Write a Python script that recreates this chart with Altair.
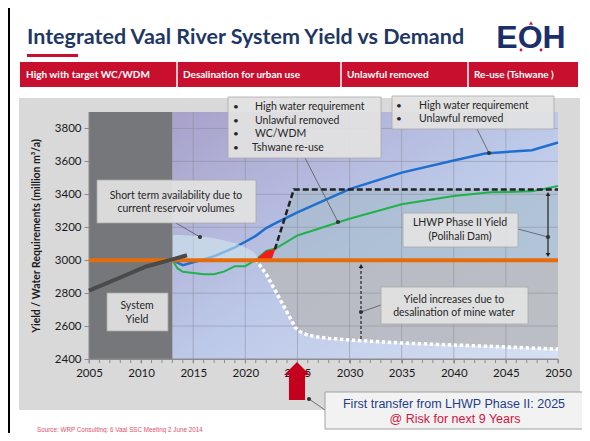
import altair as alt
import pandas as pd

# ---------------- data ----------------
x_ticks = [2005, 2010, 2015, 2020, 2025, 2030, 2035, 2040, 2045, 2050]
y_ticks = [2400, 2600, 2800, 3000, 3200, 3400, 3600, 3800]
minor_years = list(range(2005, 2051))
x_domain = [2005, 2050]
y_domain = [2400, 3900]
history_span = [2005, 2013]
projection_span = [2013, 2050]
base_yield = 3000

system_yield_years = [2005, 2008, 2010.5, 2013, 2014.4]
system_yield_vals = [2815, 2895, 2962, 3005, 3030]

current_yield_years = [2005, 2050]
current_yield_vals = [3000, 3000]

high_req_years = [2013, 2014, 2015, 2016, 2017, 2018, 2019, 2020, 2021, 2022, 2023,
                  2025, 2030, 2035, 2040, 2043, 2045, 2047.5, 2050]
high_req_vals = [3000, 2970, 2988, 3005, 3025, 3050, 3078, 3112, 3148, 3195, 3228,
                 3290, 3432, 3532, 3605, 3648, 3657, 3668, 3715]

wcwdm_years = [2013, 2013.5, 2014, 2015, 2016, 2017, 2018, 2019, 2020, 2021, 2022,
               2022.9, 2025, 2030, 2035, 2040, 2043.5, 2047.5, 2050]
wcwdm_vals = [3000, 2950, 2930, 2922, 2915, 2915, 2932, 2964, 2964, 3003, 3056,
              3071, 3150, 3252, 3340, 3390, 3412, 3418, 3450]

decline_years = [2021.0, 2022, 2023, 2024, 2024.8, 2025.3, 2026, 2027, 2028, 2030,
                 2035, 2040, 2045, 2050]
decline_vals = [3005, 2915, 2800, 2685, 2590, 2565, 2545, 2533, 2525, 2515,
                2497, 2485, 2473, 2460]

lhwp_line_years = [2022.83, 2024.65, 2050]
lhwp_line_vals = [3065, 3430, 3430]
lhwp_area_years = [2022.5, 2024.65, 2050]
lhwp_area_vals = [3000, 3430, 3430]

deficit_years = [2020.9, 2022.0, 2022.5, 2022.9]
deficit_top = [3000, 3056, 3064, 3071]
deficit_bottom = [3000, 3000, 3000, 3071]

# ---------------- frames ----------------
def frame(xv, yv, y2v=None):
    d = pd.DataFrame({'year': xv, 'val': yv})
    if y2v is not None:
        d['val2'] = y2v
    return d

sys_df = frame(system_yield_years, system_yield_vals)
cur_df = frame(current_yield_years, current_yield_vals)
high_df = frame(high_req_years, high_req_vals)
wc_df = frame(wcwdm_years, wcwdm_vals)
dec_df = frame(decline_years, decline_vals, [base_yield] * len(decline_years))
lhl_df = frame(lhwp_line_years, lhwp_line_vals)
lha_df = frame(lhwp_area_years, lhwp_area_vals, [base_yield] * len(lhwp_area_years))
def_df = frame(deficit_years, deficit_top, deficit_bottom)
proj_df = pd.DataFrame({'year': [projection_span[0]], 'year2': [projection_span[1]],
                        'val': [y_domain[0]], 'val2': [y_domain[1]]})
hist_df = pd.DataFrame({'year': [history_span[0]], 'year2': [history_span[1]],
                        'val': [y_domain[0]], 'val2': [y_domain[1]]})
vgrid_df = pd.DataFrame({'year': x_ticks[1:-1]})
hgrid_df = pd.DataFrame({'val': y_ticks[1:]})
minor_df = pd.DataFrame({'year': minor_years})
one = pd.DataFrame({'k': [0]})

# ---------------- layout ----------------
W, H = 469, 247
L, T = 89, 112  # page position of plot origin
FONT = 'Lato'

xs = alt.Scale(domain=x_domain, nice=False, zero=False)
ys = alt.Scale(domain=y_domain, nice=False, zero=False)
xax = alt.Axis(values=x_ticks, format='d', title='', grid=False, labelFont=FONT,
               labelFontSize=11.5, labelColor='#1a1a1a', tickColor='#8c8c8c', tickSize=4,
               domainColor='#8c8c8c', labelPadding=4, labelFlush=False)
yax = alt.Axis(values=y_ticks, format='d', title='Yield / Water Requirements (million m³/a)',
               grid=False, labelFont=FONT, labelFontSize=11.5, labelColor='#1a1a1a',
               tickColor='#8c8c8c', tickSize=5, domainColor='#8c8c8c', labelPadding=3,
               labelFlush=False, titleFont=FONT, titleFontSize=10.5, titleFontWeight='bold',
               titleColor='#1a1a1a', titlePadding=13)

def X(f='year'):
    return alt.X(f + ':Q', scale=xs, axis=xax)

def Y(f='val'):
    return alt.Y(f + ':Q', scale=ys, axis=yax)

def rect(x1, y1, x2, y2, **kw):
    return alt.Chart(one).mark_rect(**kw).encode(
        x=alt.value(x1 - L), x2=alt.value(x2 - L), y=alt.value(y1 - T), y2=alt.value(y2 - T))

def text(px, py, s, **kw):
    kw.setdefault('font', FONT)
    kw.setdefault('fontSize', 10.5)
    kw.setdefault('baseline', 'middle')
    kw.setdefault('color', '#262626')
    return alt.Chart(one).mark_text(text=s, **kw).encode(x=alt.value(px - L), y=alt.value(py - T))

def seg(x1, y1, x2, y2, **kw):
    kw.setdefault('color', '#555555')
    kw.setdefault('strokeWidth', 0.8)
    return alt.Chart(one).mark_rule(**kw).encode(
        x=alt.value(x1 - L), y=alt.value(y1 - T), x2=alt.value(x2 - L), y2=alt.value(y2 - T))

def dot(px, py, size=18, color='#333333', shape='circle', opacity=1):
    return alt.Chart(one).mark_point(filled=True, size=size, color=color, shape=shape,
                                     opacity=opacity).encode(x=alt.value(px - L), y=alt.value(py - T))

def box(x1, y1, x2, y2):
    return rect(x1, y1, x2, y2, fill='#e2e2e2', fillOpacity=0.93, stroke='#a8a8a8', strokeWidth=0.8)

layers = []
# slide decoration: the chart background is the grey panel, white around it
layers.append(rect(8, 8, 582, 98, color='#ffffff'))
layers.append(rect(8, 98, 19, 433, color='#ffffff'))
layers.append(rect(580, 98, 582, 433, color='#ffffff'))
layers.append(rect(8, 410, 582, 433, color='#ffffff'))
layers.append(rect(8, 8, 10, 433, color='#000000'))

# plot background
grad = alt.LinearGradient(gradient='linear', x1=0, y1=0, x2=1, y2=1,
                          stops=[alt.GradientStop(color='#a8a1cb', offset=0),
                                 alt.GradientStop(color='#bcc8e8', offset=0.5),
                                 alt.GradientStop(color='#d6e0f3', offset=1)])
layers.append(alt.Chart(proj_df).mark_rect(color=grad).encode(x=X(), x2='year2', y=Y(), y2='val2'))
layers.append(alt.Chart(dec_df).mark_area(color='#b7b8bd', opacity=0.85).encode(x=X(), y=Y(), y2='val2'))
layers.append(alt.Chart(lha_df).mark_area(color='#a6bccb', opacity=0.65).encode(x=X(), y=Y(), y2='val2'))
# grid
layers.append(alt.Chart(vgrid_df).mark_rule(color='#8a8a9a', opacity=0.5, strokeWidth=1).encode(
    x=X(), y=alt.value(0), y2=alt.value(H)))
layers.append(alt.Chart(hgrid_df).mark_rule(color='#8a8a9a', opacity=0.5, strokeWidth=1).encode(
    y=Y(), x=alt.value(0), x2=alt.value(W)))
layers.append(alt.Chart(minor_df).mark_rule(color='#8c8c8c', strokeWidth=1).encode(
    x=X(), y=alt.value(H), y2=alt.value(H + 4)))
# history block
layers.append(alt.Chart(hist_df).mark_rect(color='#76777b').encode(x=X(), x2='year2', y=Y(), y2='val2'))
# axis lines on top of the blocks
layers.append(rect(L - 0.5, T, L + 0.5, T + H, color='#8c8c8c'))
layers.append(rect(L, T + H - 0.5, L + W, T + H + 0.5, color='#8c8c8c'))
# demand lines
layers.append(alt.Chart(high_df).mark_line(color='#1f6fcf', strokeWidth=2.5).encode(x=X(), y=Y()))
layers.append(alt.Chart(wc_df).mark_line(color='#1fb24a', strokeWidth=2).encode(x=X(), y=Y()))
# short-term availability shading
layers.append(dot(173, 262, size=29584, color='#d3ecef', opacity=0.55,
                  shape='M 0 0 L 0 -0.314 C 0.5523 -0.314 1 -0.1734 1 0 Z'))
# deficit
layers.append(alt.Chart(def_df).mark_area(color='#f21c1c', opacity=1).encode(x=X(), y=Y(), y2='val2'))
# LHWP and declining yield
layers.append(alt.Chart(lhl_df).mark_line(color='#222222', strokeWidth=2.5, strokeDash=[6, 3]).encode(x=X(), y=Y()))
layers.append(alt.Chart(dec_df).mark_line(color='#ffffff', strokeWidth=3.5, strokeDash=[3.5, 2.5]).encode(x=X(), y=Y()))
layers.append(alt.Chart(cur_df).mark_line(color='#e46c0a', strokeWidth=4).encode(x=X(), y=Y()))
layers.append(alt.Chart(sys_df).mark_line(color='#4a4a4a', strokeWidth=4).encode(x=X(), y=Y()))

# callouts
layers.append(seg(176, 223, 200, 237))
layers.append(box(97, 180, 256, 223))
layers.append(dot(200, 237))
layers.append(text(176, 196, 'Short term availability due to', align='center'))
layers.append(text(176, 209, 'current reservoir volumes', align='center'))

layers.append(box(107, 293, 168, 331))
layers.append(text(137, 306, 'System', align='center'))
layers.append(text(137, 320, 'Yield', align='center'))

layers.append(seg(305, 158, 338, 222))
layers.append(box(228, 97, 381, 158))
layers.append(dot(338, 222))
for i, (lbl, yy) in enumerate([('High water requirement', 107), ('Unlawful removed', 121),
                               ('WC/WDM', 134), ('Tshwane re-use', 148)]):
    layers.append(text(236, yy, '•', align='center', fontSize=10))
    layers.append(text(255 if i < 3 else 252, yy, lbl, align='left'))

layers.append(seg(477, 129, 489, 153))
layers.append(box(392, 96, 554, 129))
layers.append(dot(489, 153))
for lbl, yy in [('High water requirement', 106), ('Unlawful removed', 119)]:
    layers.append(text(399, yy, '•', align='center', fontSize=10))
    layers.append(text(419, yy, lbl, align='left'))

# LHWP yield arrow
layers.append(seg(548, 195, 548, 254, color='#222222', strokeWidth=1.2))
layers.append(dot(548, 194, size=22, color='#222222', shape='triangle-up'))
layers.append(dot(548, 255, size=22, color='#222222', shape='triangle-down'))
layers.append(seg(518, 229, 548, 237))
layers.append(box(403, 213, 518, 247))
layers.append(dot(548, 237))
layers.append(text(460, 223, 'LHWP Phase II Yield', align='center'))
layers.append(text(460, 237, '(Polihali Dam)', align='center'))

# desalination arrow
layers.append(seg(361, 339, 361, 268, color='#222222', strokeWidth=1.2, strokeDash=[3, 2]))
layers.append(dot(361, 266, size=22, color='#222222', shape='triangle-up'))
layers.append(seg(381, 305, 361, 312))
layers.append(box(381, 287, 528, 324))
layers.append(dot(361, 312))
layers.append(text(454, 300, 'Yield increases due to', align='center'))
layers.append(text(454, 313, 'desalination of mine water', align='center'))

# red arrow
layers.append(dot(297, 375, size=676, color='#c4001f',
                  shape='M 0 -1 L 1 0 L 0.62 0 L 0.62 1.92 L -0.62 1.92 L -0.62 0 L -1 0 Z'))

layers.append(seg(325, 410, 309, 399))
layers.append(rect(325, 392, 584, 429, fill='#f2f2f2', stroke='#a0a0a0', strokeWidth=1))
layers.append(dot(309, 399))
layers.append(text(454, 404, 'First transfer from LHWP Phase II: 2025', align='center',
                   font='Liberation Sans', fontSize=12.5, color='#1f3d8c'))
layers.append(text(455, 419, '@ Risk for next 9 Years', align='center',
                   font='Liberation Sans', fontSize=12.5, color='#d4123e'))

layers.append(text(37, 430, 'Source: WRP Consulting: 6 Vaal SSC Meeting 2 June 2014', align='left',
                   font='Liberation Sans', fontSize=6.3, color='#e0506a'))

# header
layers.append(text(27, 38, 'Integrated Vaal River System Yield vs Demand', align='left',
                   fontSize=21.5, fontWeight='bold', color='#1f3763'))
layers.append(rect(27, 54, 78, 57, color='#c8102e'))
layers.append(text(531, 38, 'EOH', align='center', font='Liberation Sans', fontSize=32,
                   fontWeight='bold', color='#1c2f6b'))
layers.append(dot(531, 23, size=16, color='#d4123e', shape='triangle-up'))
layers.append(dot(521, 50, size=8, color='#d4123e'))
layers.append(dot(541, 50, size=8, color='#d4123e'))
layers.append(rect(20, 62, 578, 87, color='#c8102e'))
for sx in [177, 341, 468]:
    layers.append(seg(sx, 62, sx, 87, color='#ffffff', strokeWidth=1.5))
for sx, lbl in [(26, 'High with target WC/WDM'), (183, 'Desalination for urban use'),
                (347, 'Unlawful removed'), (474, 'Re-use (Tshwane )')]:
    layers.append(text(sx, 74.5, lbl, align='left', fontSize=10, fontWeight='bold', color='#ffffff'))

chart = alt.layer(*layers).properties(
    width=W, height=H,
    padding={'left': L - 8, 'top': T - 8, 'right': 574 - (L - 8) - W, 'bottom': 425 - (T - 8) - H},
    autosize=alt.AutoSizeParams(type='none'),
    background='#d9d9d9',
).configure_view(stroke=None)

chart.save('out.html', embed_options={'renderer': 'svg', 'actions': False})
